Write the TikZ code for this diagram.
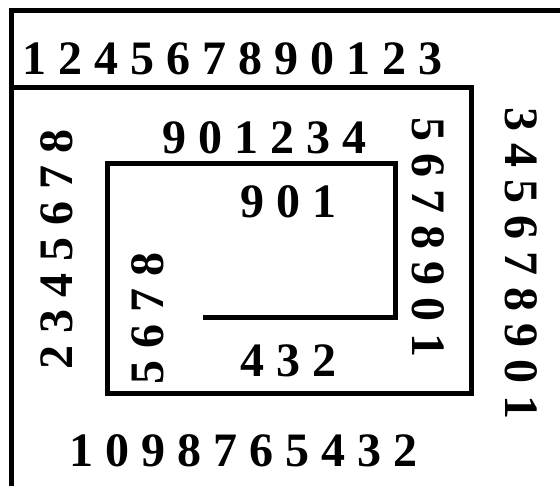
\documentclass[tikz,border=0pt]{standalone}
\usepackage{fontspec}
\setmainfont{Liberation Serif}
\begin{document}
\begin{tikzpicture}[x=1pt,y=-1pt,
  wall/.style={line width=5pt, line join=miter},
  lbl/.style={font=\fontsize{48}{48}\selectfont\bfseries, inner sep=0pt, anchor=base west}]
\useasboundingbox (0,0) rectangle (560,485);
\fill[white] (0,0) rectangle (560,485);
% spiral lines
\coordinate (o1) at (563,10.5);
\coordinate (o2) at (11.5,10.5);
\coordinate (o3) at (11.5,488);
\draw[wall] (o1) -- (o2) -- (o3);
\coordinate (s0) at (11.5,87);
\coordinate (s1) at (471,87);
\coordinate (s2) at (471,393);
\coordinate (s3) at (107,393);
\coordinate (s4) at (107,163);
\coordinate (s5) at (395,163);
\coordinate (s6) at (395,317);
\coordinate (s7) at (203,317);
\draw[wall] (s0) -- (s1) -- (s2) -- (s3) -- (s4) -- (s5) -- (s6) -- (s7);
% texts
\node[lbl] (t1) at (22,74) {1 2 4 5 6 7 8 9 0 1 2 3};
\node[lbl] (t2) at (162,153) {9 0 1 2 3 4};
\node[lbl] (t3) at (240,217) {9 0 1};
\node[lbl] (t4) at (240,376) {4 3 2};
\node[lbl] (t5) at (69,466) {1 0 9 8 7 6 5 4 3 2};
\node[lbl, rotate=90] (t6) at (72,370) {2 3 4 5 6 7 8};
\node[lbl, rotate=90] (t7) at (163,385) {5 6 7 8};
\node[lbl, rotate=-90] (t8) at (412,117) {5 6 7 8 9 0 1};
\node[lbl, rotate=-90] (t9) at (505,107) {3 4 5 6 7 8 9 0 1};
\end{tikzpicture}
\end{document}
